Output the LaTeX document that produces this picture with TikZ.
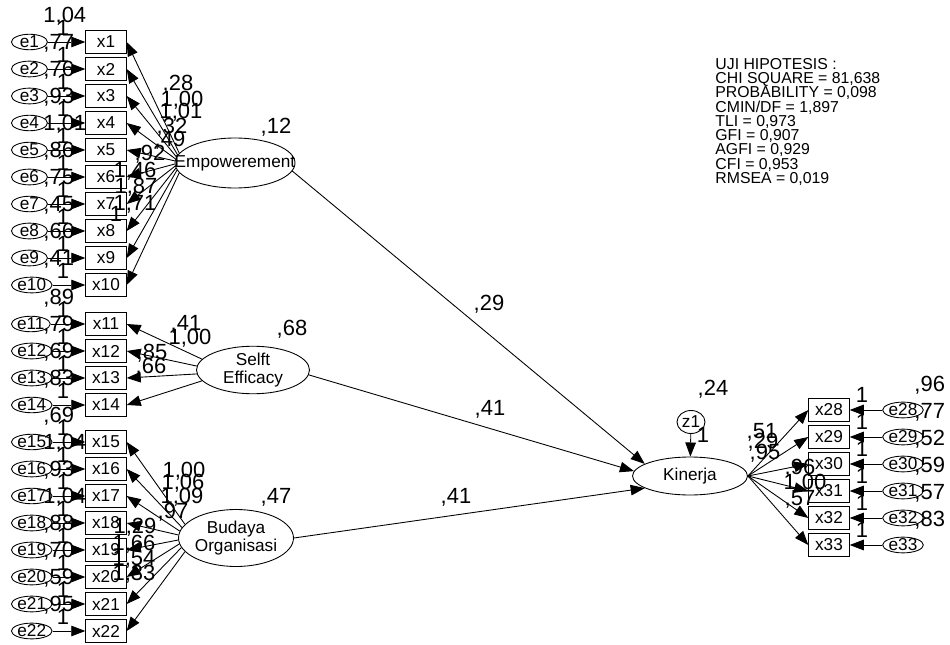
\documentclass[tikz,border=0pt]{standalone}
\usepackage{fontspec}
\setmainfont{Liberation Sans}
\usetikzlibrary{shapes.geometric,arrows.meta}
\tikzset{
  obs/.style={draw,rectangle,inner sep=0pt,minimum width=0.81cm,minimum height=0.47cm},
  err/.style={draw,ellipse,inner xsep=0pt,inner ysep=-0.3pt,minimum width=0.72cm},
  latent/.style={draw,ellipse,inner sep=0pt,align=center},
  est/.style={font=\fontsize{12.5}{12.5}\selectfont,inner sep=0pt},
  arr/.style={-{Triangle[length=8pt,width=6pt]}}
}
\newcommand{\zw}[1]{\makebox[0pt]{#1}}
\begin{document}
\begin{tikzpicture}[x=0.02cm,y=-0.02cm,line width=0.5pt,
  every node/.style={font=\fontsize{9.8}{10}\selectfont}]
\useasboundingbox (0,0) rectangle (950,645);
% latent variables
\node[latent,minimum width=2.4cm,minimum height=1cm] (emp) at (235,163) {\zw{Empowerement}};
\node[latent,minimum width=2.26cm,minimum height=0.92cm] (se) at (253,370) {\zw{Selft}\\\zw{Efficacy}};
\node[latent,minimum width=2.3cm,minimum height=1.14cm] (bo) at (236,538) {\zw{Budaya}\\\zw{Organisasi}};
\node[latent,minimum width=2.3cm,minimum height=0.76cm] (kin) at (690,476) {\zw{Kinerja}};
\node[latent,minimum width=0.56cm,minimum height=0.46cm] (z1) at (691,422) {\zw{z1}};
% Empowerement indicators
\foreach \i/\v in {1/1{,}04,2/{,}77,3/{,}76,4/{,}93,5/1{,}01,6/{,}86,7/{,}75,8/{,}45,9/{,}66,10/{,}41} {
  \pgfmathsetmacro{\y}{42+(\i-1)*27}
  \pgfmathtruncatemacro{\a}{170+(\i-1)*20/9}
  \node[obs] (x\i) at (106,\y) {x\i};
  \node[err,anchor=west] (e\i) at (11,\y) {e\i};
  \draw[arr] (e\i) -- (x\i);
  \draw[arr] (emp.\a) -- (x\i.east);
  \node[est] at (63,\y-14) {1};
  \node[est,anchor=west] at (43,\y-26) {\v};
}
% Selft Efficacy indicators
\foreach \i/\v in {11/{,}89,12/{,}79,13/{,}69,14/{,}83} {
  \pgfmathsetmacro{\y}{324+(\i-11)*27}
  \pgfmathtruncatemacro{\a}{168+(\i-11)*8}
  \node[obs] (x\i) at (106,\y) {x\i};
  \node[err,anchor=west] (e\i) at (11,\y) {e\i};
  \draw[arr] (e\i) -- (x\i);
  \draw[arr] (se.\a) -- (x\i.east);
  \node[est] at (63,\y-14) {1};
  \node[est,anchor=west] at (43,\y-26) {\v};
}
% Budaya Organisasi indicators
\foreach \i/\v in {15/{,}69,16/1{,}04,17/{,}93,18/1{,}04,19/{,}88,20/{,}70,21/{,}59,22/{,}95} {
  \pgfmathsetmacro{\y}{442+(\i-15)*27}
  \pgfmathtruncatemacro{\a}{165+(\i-15)*30/7}
  \node[obs] (x\i) at (106,\y) {x\i};
  \node[err,anchor=west] (e\i) at (11,\y) {e\i};
  \draw[arr] (e\i) -- (x\i);
  \draw[arr] (bo.\a) -- (x\i.east);
  \node[est] at (63,\y-14) {1};
  \node[est,anchor=west] at (43,\y-26) {\v};
}
% Kinerja indicators
\foreach \i/\v in {28/{,}96,29/{,}77,30/{,}52,31/{,}59,32/{,}57,33/{,}83} {
  \pgfmathsetmacro{\y}{410+(\i-28)*27}
  \node[obs] (x\i) at (829,\y) {x\i};
  \node[err] (e\i) at (903,\y) {e\i};
  \draw[arr] (e\i) -- (x\i);
  \draw[arr] (kin.east) -- (x\i.west);
  \node[est] at (862,\y-15) {1};
  \node[est,anchor=west] at (914,\y-25) {\v};
}
% loading estimates
\foreach \x/\y/\t in {178/84/{,}28,182/100/1{,}00,181/112/1{,}01,172/127/{,}32,170/140/{,}49,
  150/154/{,}92,135/171/1{,}46,136/187/1{,}87,135/204/1{,}71,116/214/1,
  186/324/{,}41,190/338/1{,}00,152/353/{,}85,151/367/{,}66,
  184/471/1{,}00,183/483/1{,}06,182/497/1{,}09,173/512/{,}97,135/527/1{,}29,134/544/1{,}66,134/559/1{,}54,134/574/1{,}33,
  762/432/{,}51,763/442/{,}29,765/453/{,}95,800/468/{,}96,805/483/1{,}00,800/499/{,}57}
  \node[est] at (\x,\y) {\t};
% structural model
\draw[arr] (emp.-8) -- (kin.165);
\draw[arr] (se.-5) -- (kin.175);
\draw[arr] (bo.east) -- (kin.195);
\draw[arr] (z1) -- (kin);
\node[est] at (276,127) {,12};
\node[est] at (292,329) {,68};
\node[est] at (276,497) {,47};
\node[est] at (713,389) {,24};
\node[est] at (703,435) {1};
\node[est] at (489,304) {,29};
\node[est] at (490,409) {,41};
\node[est] at (456,497) {,41};
% fit indices
\node[anchor=north west,inner sep=0pt,align=left,font=\fontsize{9}{8.1}\selectfont] (fit) at (715,58) {UJI HIPOTESIS :\\CHI SQUARE = 81,638\\PROBABILITY = 0,098\\CMIN/DF = 1,897\\TLI = 0,973\\GFI = 0,907\\AGFI = 0,929\\CFI = 0,953\\RMSEA = 0,019};
\end{tikzpicture}
\end{document}
